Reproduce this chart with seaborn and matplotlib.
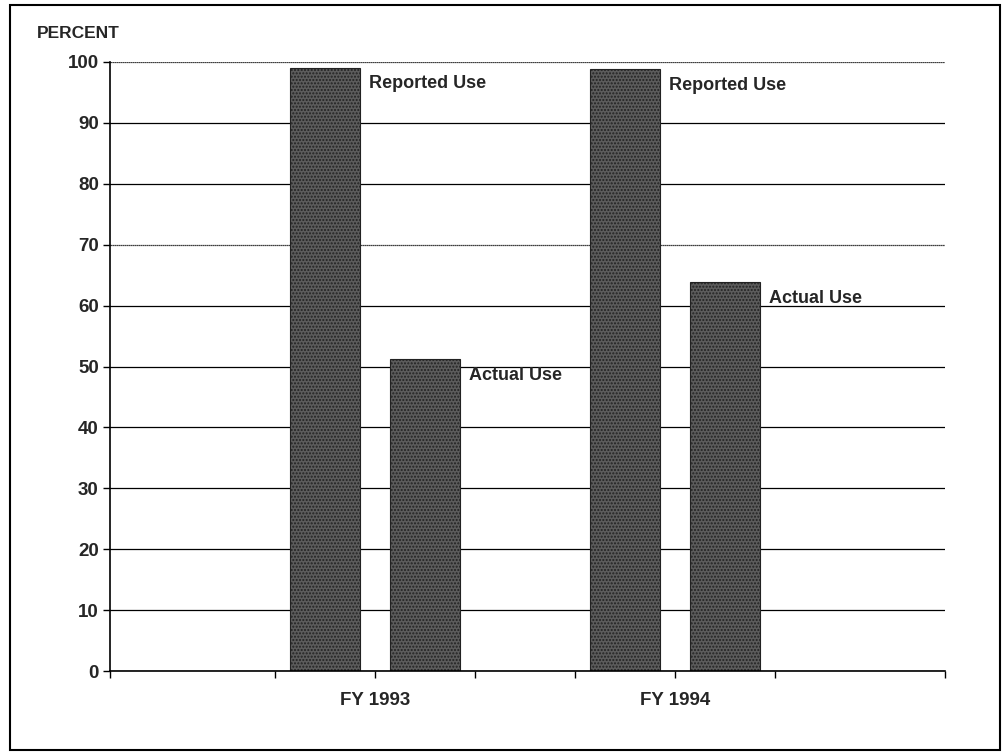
import numpy as np
import pandas as pd
import matplotlib.pyplot as plt
import seaborn as sns
from matplotlib.patches import Rectangle

# ── Data ─────────────────────────────────────────────────────
years      = ['FY 1993', 'FY 1994']
series     = ['Reported Use', 'Actual Use']
reported   = [99.0, 98.8]
actual     = [51.2, 63.8]
y_ticks    = [0, 10, 20, 30, 40, 50, 60, 70, 80, 90, 100]

df = pd.DataFrame({
    'Year': years * 2,
    'Series': [series[0]] * 2 + [series[1]] * 2,
    'Percent': reported + actual,
})

sns.set_style('white')
plt.rcParams['font.family'] = ['Liberation Sans', 'DejaVu Sans']
plt.rcParams['font.weight'] = 'bold'

fig = plt.figure(figsize=(10.08, 7.55), dpi=100)
ax = fig.add_axes([0.109, 0.111, 0.8285, 0.807])

# horizontal grid lines
for v in y_ticks:
    ax.axhline(v, color='black', lw=0.9, zorder=0,
               ls=(0, (1, 0.6)) if v in (70, 100) else '-')

sns.barplot(data=df, x='Year', y='Percent', hue='Series', order=years,
            hue_order=series, palette=['#5c5c5c', '#5c5c5c'],
            width=0.667, gap=0.3, ax=ax, legend=False, zorder=2,
            edgecolor='#222222', linewidth=0.8, hatch='.....')

# value labels next to each bar
for cont, name in zip(ax.containers, series):
    for bar in cont:
        h = bar.get_height()
        x = bar.get_x() + bar.get_width() + 0.03
        ax.text(x, h - 2.6, name, fontsize=13, fontweight='bold',
                va='center', ha='left', zorder=3)

ax.set_xlim(-0.883, 1.9)
ax.set_ylim(0, 100)
ax.set_yticks(y_ticks)
ax.set_yticklabels([str(v) for v in y_ticks], fontsize=13.5, fontweight='bold')
ax.set_xticks([0, 1])
ax.set_xticklabels(years, fontsize=13.5, fontweight='bold')
ax.set_xticks([-0.883, -0.333, 0.333, 0.667, 1.333, 1.9], minor=True)
ax.tick_params(axis='both', which='both', direction='out', length=5,
               width=1, color='black', bottom=True, left=True)
ax.tick_params(axis='x', which='major', pad=10)
ax.tick_params(axis='y', which='major', pad=3)
ax.set_xlabel('')
ax.set_ylabel('')

for side in ['top', 'right']:
    ax.spines[side].set_visible(False)
for side in ['left', 'bottom']:
    ax.spines[side].set_color('black')
    ax.spines[side].set_linewidth(1.2)

fig.text(37 / 1008, 1 - 33 / 755, 'PERCENT', fontsize=12.5, fontweight='bold',
         ha='left', va='center')

# outer frame
fig.patches.append(Rectangle((10 / 1008, 1 - 750 / 755), 990 / 1008, 745 / 755,
                             transform=fig.transFigure, fill=False,
                             edgecolor='black', linewidth=1.5))

plt.savefig('out.png', dpi=100)
plt.close()
